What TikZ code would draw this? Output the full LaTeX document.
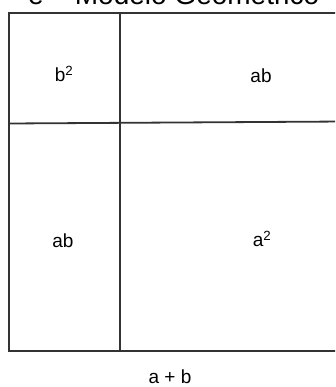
\documentclass[tikz,border=0pt]{standalone}
\usepackage{fontspec}
\setmainfont{Liberation Sans}
\begin{document}
\begin{tikzpicture}[x=1pt,y=-1pt,
  edge/.style={draw=black!80,line width=1.8pt},
  lbl/.style={font=\fontsize{19}{22}\selectfont,inner sep=0pt},
  ttl/.style={font=\fontsize{28}{32}\selectfont,inner sep=0pt,anchor=base west}]
\useasboundingbox (0,0) rectangle (335,387);
\clip (0,0) rectangle (335,387);
% outer box (right side runs past the edge)
\coordinate (tl) at (9,13);
\coordinate (bl) at (9,351);
\coordinate (tr) at (345,13);
\coordinate (br) at (345,351);
\coordinate (vt) at (120,13);
\coordinate (vb) at (120,351);
\coordinate (hl) at (9,123.5);
\coordinate (hr) at (345,121.5);
\draw[edge] (tr) -- (tl) -- (bl) -- (br);
\draw[edge] (vt) -- (vb);
\draw[edge] (hl) -- (hr);
% labels
\node[lbl] (b2) at (64,74) {b\textsuperscript{2}};
\node[lbl] (ab1) at (261,76) {ab};
\node[lbl] (ab2) at (63,241) {ab};
\node[lbl] (a2) at (262,239) {a\textsuperscript{2}};
\node[lbl] (sum) at (170,377) {a + b};
% title, mostly cut off by the top edge
\node[ttl] (title) at (28,4.5) {e – Modelo Geométrico};
\end{tikzpicture}
\end{document}
